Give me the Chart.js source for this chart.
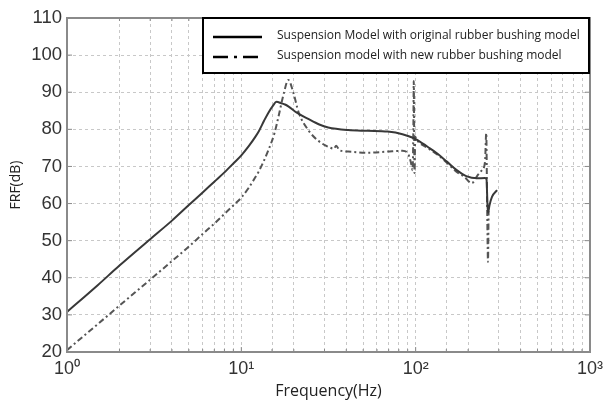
<!DOCTYPE html>
<html>
<head>
<meta charset="utf-8">
<script src="https://cdn.jsdelivr.net/npm/chart.js@4"></script>
<style>
  html, body { margin: 0; padding: 0; background: #fff; }
  #wrap { width: 609px; height: 401px; }
</style>
</head>
<body>
<div id="wrap"><canvas id="chart"></canvas></div>
<script>
// series 1: suspension model with original rubber bushing model
const origFreq = [1, 1.5, 2, 3, 4, 5, 6, 7, 8, 9, 10, 11, 12, 12.6, 13.5, 14.3, 15.2, 15.9, 17, 17.8, 18.6, 20.8, 24.2, 28, 31.5, 41, 53, 69, 84, 98, 103, 117, 133, 151, 172, 195, 225, 250, 255, 258, 260, 265, 274, 293];
const origDb   = [30.8, 38.0, 43.3, 50.4, 55.4, 59.6, 63.0, 65.9, 68.4, 70.8, 73.0, 75.4, 77.9, 79.5, 82.3, 84.5, 86.4, 87.4, 87.0, 86.7, 86.2, 84.5, 82.8, 81.3, 80.5, 79.8, 79.6, 79.4, 78.7, 77.6, 77.0, 75.3, 73.5, 71.3, 69, 67.4, 66.8, 66.9, 66.5, 60, 57.5, 59.5, 61.8, 63.6];

// series 2: suspension model with new rubber bushing model
const newFreq = [1, 1.5, 2, 3, 4, 5, 6, 7, 8, 9, 10, 11, 12, 12.6, 14.3, 15.5, 16.3, 17.5, 18.6, 19.9, 21.3, 24.2, 27.5, 31.5, 34, 35, 36.5, 41, 53, 69, 84, 90, 94, 96, 97, 97.5, 98.5, 99.5, 101, 117, 133, 151, 172, 190, 210, 225, 240, 250, 254, 257, 260, 262];
const newDb   = [20.5, 27.5, 32.5, 39.5, 44.5, 48.4, 51.8, 54.6, 57.2, 59.5, 61.6, 64.2, 67.0, 68.7, 74.4, 79.0, 83.2, 89.6, 93.3, 89.8, 84.6, 79.8, 77, 75.3, 74.8, 75.6, 74.4, 74, 73.7, 74, 74.2, 73.6, 71, 69, 80, 93, 68.2, 78, 77.3, 75.0, 73.2, 71, 68.5, 67.2, 65.5, 67.4, 69, 71.3, 79, 60, 44.3, 58];

const seriesNames = ['Suspension Model with original rubber bushing model', 'Suspension model with new rubber bushing model'];
const decadeValues = [1, 10, 100, 1000];
const decadeLabels = ['10\u2070', '10\u00b9', '10\u00b2', '10\u00b3'];
const yMin = 20, yMax = 110, yStep = 10;

const toPoints = (xs, ys) => xs.map((x, i) => ({ x: x, y: ys[i] }));

const frame = {
  id: 'frame',
  afterDatasetsDraw(chart) {
    const { ctx, chartArea: a, scales } = chart;
    ctx.save();
    ctx.strokeStyle = '#8a8a8a';
    ctx.lineWidth = 1;
    // inward ticks, matlab style
    scales.x.ticks.forEach(t => {
      const px = scales.x.getPixelForValue(t.value);
      const len = decadeValues.includes(t.value) ? 5 : 3;
      ctx.beginPath();
      ctx.moveTo(px, a.bottom); ctx.lineTo(px, a.bottom - len);
      ctx.moveTo(px, a.top); ctx.lineTo(px, a.top + len);
      ctx.stroke();
    });
    scales.y.ticks.forEach(t => {
      const py = scales.y.getPixelForValue(t.value);
      ctx.beginPath();
      ctx.moveTo(a.left, py); ctx.lineTo(a.left + 5, py);
      ctx.moveTo(a.right, py); ctx.lineTo(a.right - 5, py);
      ctx.stroke();
    });
    ctx.lineWidth = 2;
    ctx.strokeRect(a.left, a.top, a.right - a.left, a.bottom - a.top);
    ctx.restore();
  },
  afterDraw(chart) {
    const { ctx, chartArea: a } = chart;
    const ds = chart.data.datasets;
    const bx = a.left + 136, by = a.top, bw = a.right - 1 - bx, bh = 55;
    ctx.save();
    ctx.fillStyle = '#fff';
    ctx.fillRect(bx, by, bw, bh);
    ctx.strokeStyle = '#000';
    ctx.lineWidth = 2;
    ctx.strokeRect(bx, by, bw, bh);
    ds.forEach((d, i) => {
      const ly = by + 19 + i * 20;
      ctx.beginPath();
      ctx.strokeStyle = '#000';
      ctx.lineWidth = 2.5;
      ctx.setLineDash(i === 0 ? [] : [15, 6, 3, 6]);
      ctx.moveTo(bx + 10, ly); ctx.lineTo(bx + 59, ly);
      ctx.stroke();
      ctx.setLineDash([]);
      ctx.fillStyle = '#222';
      ctx.font = '12px "Open Sans"';
      ctx.textBaseline = 'middle';
      ctx.fillText(d.label, bx + 74, ly - 1);
    });
    ctx.restore();
  }
};

new Chart(document.getElementById('chart').getContext('2d'), {
  type: 'line',
  data: {
    datasets: [
      {
        label: seriesNames[0],
        data: toPoints(origFreq, origDb),
        borderColor: '#383838',
        borderWidth: 2,
        pointRadius: 0,
        cubicInterpolationMode: 'monotone'
      },
      {
        label: seriesNames[1],
        data: toPoints(newFreq, newDb),
        borderColor: '#555',
        borderWidth: 2,
        borderDash: [6, 3, 2, 3],
        pointRadius: 0,
        cubicInterpolationMode: 'monotone'
      }
    ]
  },
  options: {
    responsive: true,
    maintainAspectRatio: false,
    animation: false,
    layout: { padding: { top: 18, right: 16, left: 8, bottom: 0 } },
    plugins: { legend: { display: false }, tooltip: { enabled: false } },
    scales: {
      x: {
        type: 'logarithmic',
        min: 1,
        max: 1000,
        grid: { color: '#c8c8c8', lineWidth: 1, drawTicks: false },
        border: { display: false, dash: [3, 3] },
        ticks: {
          autoSkip: false,
          maxRotation: 0,
          padding: 6,
          color: '#333',
          font: { family: '"Liberation Sans", Arial', size: 18 },
          callback: v => {
            const k = decadeValues.indexOf(v);
            return k >= 0 ? decadeLabels[k] : '';
          }
        },
        title: {
          display: true,
          text: 'Frequency(Hz)',
          color: '#222',
          font: { family: '"Open Sans"', size: 16 },
          padding: { top: 0, bottom: 0 }
        },
        afterFit: s => { s.height = 49; }
      },
      y: {
        min: yMin,
        max: yMax,
        grid: { color: '#c8c8c8', lineWidth: 1, drawTicks: false },
        border: { display: false, dash: [3, 3] },
        ticks: {
          stepSize: yStep,
          padding: 5,
          color: '#333',
          font: { family: '"Liberation Sans", Arial', size: 18.5 }
        },
        title: {
          display: true,
          text: 'FRF(dB)',
          color: '#222',
          font: { family: '"Open Sans"', size: 14 },
          padding: { top: 0, bottom: 2 }
        },
        afterFit: s => { s.width = 59; }
      }
    }
  },
  plugins: [frame]
});
</script>
</body>
</html>
